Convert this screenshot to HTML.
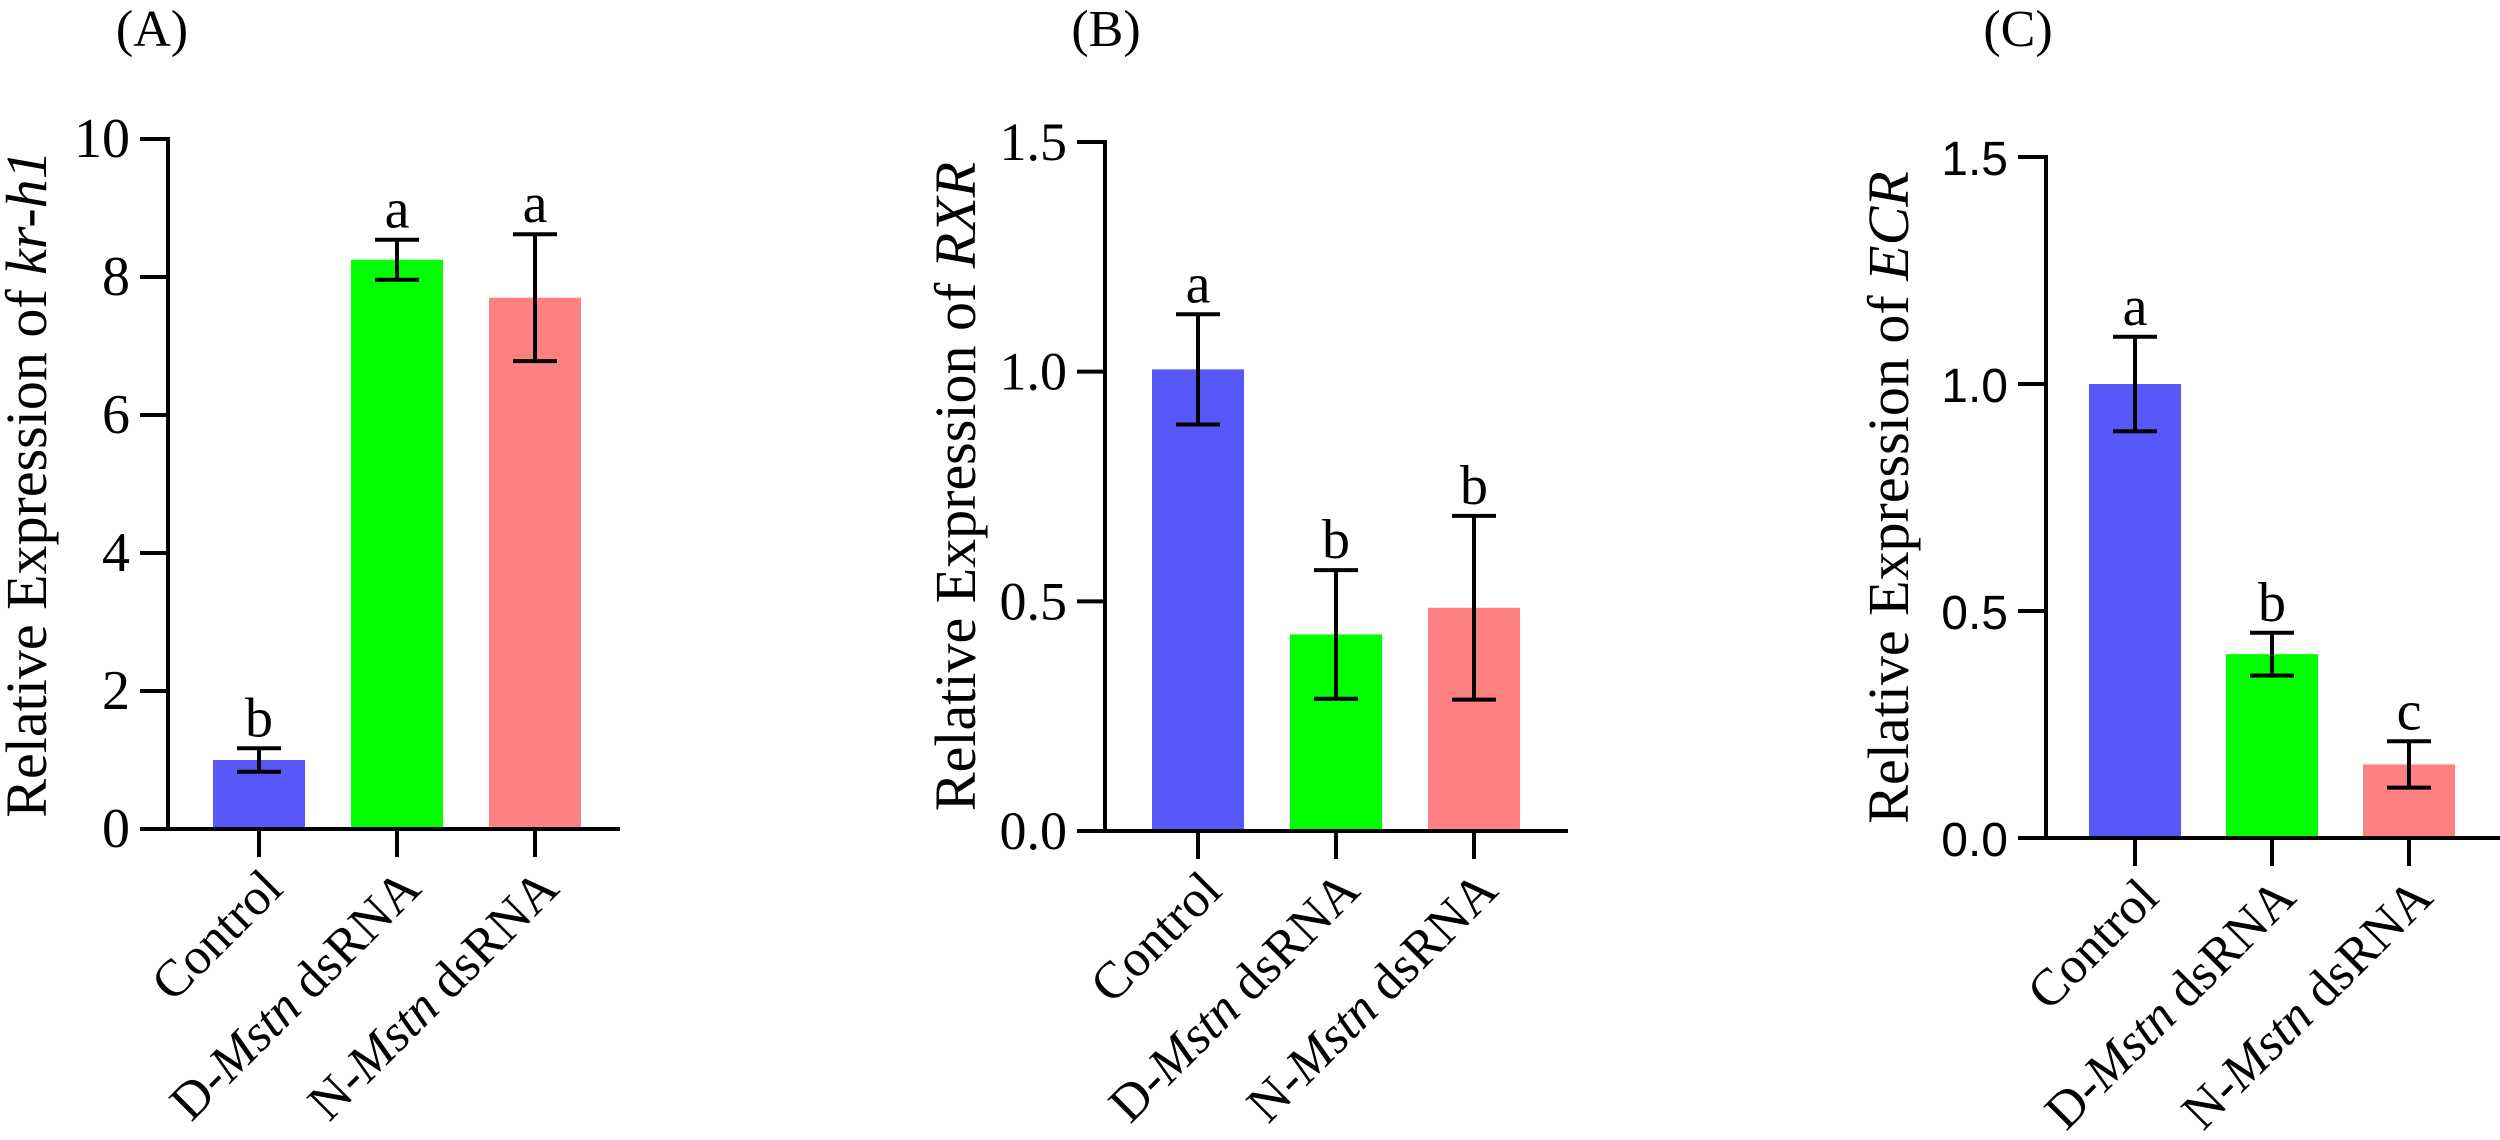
<!DOCTYPE html>
<html><head><meta charset="utf-8"><style>
html,body{margin:0;padding:0;background:#fff;}
svg{display:block;}
text{font-family:"Liberation Serif","Times New Roman",Times,serif;fill:#000;}
</style></head><body>
<svg id="fig" width="2500" height="1140" viewBox="0 0 2500 1140" xmlns="http://www.w3.org/2000/svg" font-family="Liberation Serif, Times New Roman, serif"></svg>
<script>
const categories = ["Control", "D-Mstn dsRNA", "N-Mstn dsRNA"];
const colors = ["#5757fa", "#00ff00", "#ff8080"];
const valuesA = [1.0, 8.25, 7.70];
const errA = [0.17, 0.29, 0.92];
const lettersA = ["b", "a", "a"];
const ticksA = [0, 2, 4, 6, 8, 10];
const tickLabelsA = ["0", "2", "4", "6", "8", "10"];
const valuesB = [1.005, 0.428, 0.486];
const errB = [0.12, 0.14, 0.20];
const lettersB = ["a", "b", "b"];
const ticksB = [0, 0.5, 1.0, 1.5];
const tickLabelsB = ["0.0", "0.5", "1.0", "1.5"];
const valuesC = [1.0, 0.405, 0.162];
const errC = [0.104, 0.047, 0.051];
const lettersC = ["a", "b", "c"];
const ticksC = [0, 0.5, 1.0, 1.5];
const tickLabelsC = ["0.0", "0.5", "1.0", "1.5"];

const NS = "http://www.w3.org/2000/svg";
const svg = document.getElementById("fig");
const SERIF = "'Liberation Serif', 'Times New Roman', Times, serif";
function mk(tag, attrs, parent) {
  const e = document.createElementNS(NS, tag);
  for (const k in attrs) e.setAttribute(k, attrs[k]);
  if (tag === "text") e.style.fontFamily = SERIF;
  (parent || svg).appendChild(e);
  return e;
}

function panel(cfg) {
  const g = mk("g", {});
  
  
  const y = v => cfg.y0 - (v / cfg.max) * (cfg.y0 - cfg.yTop);
  const cx = i => cfg.firstC + i * cfg.step;
  const pl = mk("text", {x: cfg.labelX, y: 46, "font-size": 52, "text-anchor": "middle"}, g);
  pl.textContent = "(" + cfg.id.toUpperCase() + ")";
  
  
  const tt = mk("text", {x: 0, y: 0, "font-size": 58, "text-anchor": "middle",
    transform: "translate(" + cfg.titleX + "," + ((cfg.y0 + cfg.yTop) / 2) + ") rotate(-90)"}, g);
  tt.appendChild(document.createTextNode("Relative Expression of "));
  const it = mk("tspan", {"font-style": "italic"}, tt);
  it.textContent = cfg.gene;
  
  
  cfg.values.forEach((v, i) => {
    const r = mk("rect", {x: cx(i) - 46, y: y(v), width: 92, height: cfg.y0 - y(v), fill: colors[i]}, g);
    
    
    const hi = y(v + cfg.err[i]), lo = y(v - cfg.err[i]);
    const eb = mk("path", {d: "M" + cx(i) + " " + hi + "V" + lo + "M" + (cx(i) - 22) + " " + hi + "H" + (cx(i) + 22) + "M" + (cx(i) - 22) + " " + lo + "H" + (cx(i) + 22),
      stroke: "#000", "stroke-width": 4, fill: "none"}, g);
    
    
    const lt = mk("text", {x: cx(i), y: hi - 12, "font-size": 56, "text-anchor": "middle"}, g);
    lt.textContent = cfg.letters[i];
    
    
    const xt = mk("line", {x1: cx(i), x2: cx(i), y1: cfg.y0, y2: cfg.y0 + 28, stroke: "#000", "stroke-width": 4}, g);
    
    
    const xl = mk("text", {x: 0, y: 0, "font-size": 52, "text-anchor": "end",
      transform: "translate(" + (cx(i) + 26) + "," + (cfg.y0 + 62) + ") rotate(-45)"}, g);
    const c = categories[i];
    if (c.indexOf("Mstn") >= 0) {
      xl.appendChild(document.createTextNode(c[0] + "-"));
      const m = mk("tspan", {"font-style": "italic"}, xl); m.textContent = "Mstn";
      xl.appendChild(document.createTextNode(" dsRNA"));
    } else xl.textContent = c;
    
    
  });
  const ya = mk("line", {x1: cfg.ax, x2: cfg.ax, y1: cfg.yTop - 2, y2: cfg.y0 + 2, stroke: "#000", "stroke-width": 4}, g);
  
  
  const xa = mk("line", {x1: cfg.ax - 28, x2: cfg.xEnd, y1: cfg.y0, y2: cfg.y0, stroke: "#000", "stroke-width": 4}, g);
  
  
  cfg.ticks.forEach((t, k) => {
    const tl = mk("line", {x1: cfg.ax - 28, x2: cfg.ax, y1: y(t), y2: y(t), stroke: "#000", "stroke-width": 4}, g);
    
    
    const tx = mk("text", {x: cfg.ax - 38, y: y(t) + 18, "font-size": cfg.tickFont, "text-anchor": "end"}, g);
    if (cfg.sans) tx.style.fontFamily = "'Liberation Sans', Arial, sans-serif";
    tx.textContent = cfg.tickLabels[k];
    
    
  });
}

panel({id: "a", gene: "kr-h1", values: valuesA, err: errA, letters: lettersA, ticks: ticksA, tickLabels: tickLabelsA,
  max: 10, y0: 829, yTop: 139, ax: 168, firstC: 259, step: 138, xEnd: 620, labelX: 152, titleX: 46, tickFont: 56});
panel({id: "b", gene: "RXR", values: valuesB, err: errB, letters: lettersB, ticks: ticksB, tickLabels: tickLabelsB,
  max: 1.5, y0: 831, yTop: 142, ax: 1105, firstC: 1198, step: 138, xEnd: 1568, labelX: 1106, titleX: 975, tickFont: 54});
panel({id: "c", gene: "ECR", values: valuesC, err: errC, letters: lettersC, ticks: ticksC, tickLabels: tickLabelsC,
  max: 1.5, y0: 838, yTop: 157, ax: 2046, firstC: 2135, step: 137, xEnd: 2500, labelX: 2018, titleX: 1908, tickFont: 48, sans: true});
</script>
</body></html>
